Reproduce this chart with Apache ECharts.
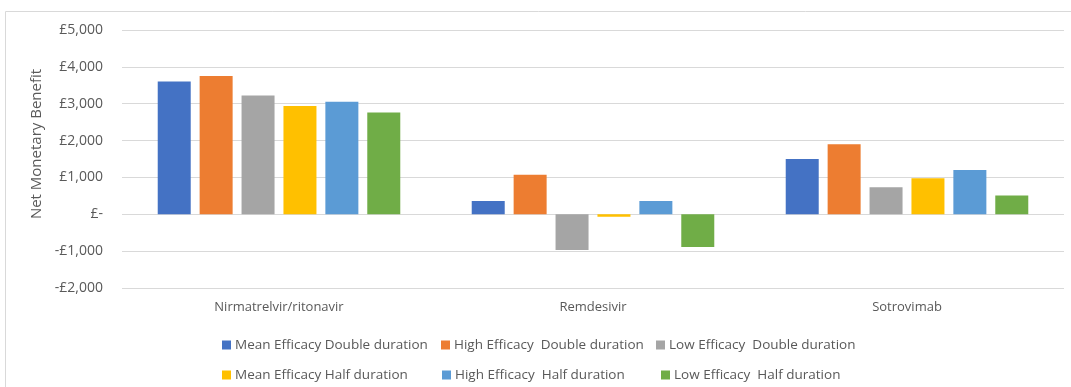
<!DOCTYPE html>
<html>
<head>
<meta charset="utf-8">
<script src="https://cdn.jsdelivr.net/npm/echarts@6/dist/echarts.min.js"></script>
<style>
  html, body { margin: 0; padding: 0; background: #fff; }
  #chart { width: 1071px; height: 387px; }
</style>
</head>
<body>
<div id="chart"></div>
<script>
// drugs on the x axis
var categories = ['Nirmatrelvir/ritonavir', 'Remdesivir', 'Sotrovimab']

// scenario names (legend)
var seriesNames = [
  'Mean Efficacy Double duration',
  'High Efficacy  Double duration',
  'Low Efficacy  Double duration',
  'Mean Efficacy Half duration',
  'High Efficacy  Half duration',
  'Low Efficacy  Half duration'
]
var colors = ['#4472c4', '#ed7d31', '#a5a5a5', '#ffc000', '#5b9bd5', '#70ad47']

// net monetary benefit (£)
var meanDouble = [3600, 360, 1500]
var highDouble = [3750, 1070, 1900]
var lowDouble = [3220, -970, 735]
var meanHalf = [2940, -70, 980]
var highHalf = [3050, 360, 1200]
var lowHalf = [2760, -890, 510]
var values = [meanDouble, highDouble, lowDouble, meanHalf, highHalf, lowHalf]

var chart = echarts.init(document.getElementById('chart'), null, { renderer: 'canvas' })

function fmt(v) {
  if (v === 0) return '£-'
  var s = Math.abs(v).toString().replace(/\B(?=(\d{3})+(?!\d))/g, ',')
  return (v < 0 ? '-£' : '£') + s
}

var font = "'Open Sans', 'Liberation Sans', sans-serif"

// legend spots, one legend per item so the columns sit like the original
var legendPos = [[217, 333], [436, 333], [651, 333], [217, 363], [437, 363], [656, 363]]
var legends = seriesNames.map(function (name, i) {
  return {
    data: [name],
    left: legendPos[i][0],
    top: legendPos[i][1],
    itemWidth: 9,
    itemHeight: 9,
    itemGap: 0,
    icon: 'rect',
    textStyle: { color: '#595959', fontSize: 13.5, fontFamily: font, padding: [0, 0, 0, -1] }
  }
})

var series = seriesNames.map(function (name, i) {
  return {
    name: name,
    type: 'bar',
    data: values[i],
    barWidth: 33,
    barGap: '27%',
    itemStyle: { color: colors[i] }
  }
})

var option = {
  animation: false,
  graphic: [{
    type: 'rect',
    shape: { x: 5.5, y: 11.5, width: 1200, height: 500 },
    style: { fill: 'none', stroke: '#d9d9d9', lineWidth: 1 },
    silent: true
  }],
  grid: { left: 122, right: 7, top: 30, bottom: 99, containLabel: false },
  legend: legends,
  xAxis: {
    type: 'category',
    data: categories,
    axisLine: { show: false },
    axisTick: { show: false },
    axisLabel: { color: '#595959', fontSize: 13, fontFamily: font, margin: 13 }
  },
  yAxis: {
    type: 'value',
    min: -2000,
    max: 5000,
    interval: 1000,
    name: 'Net Monetary Benefit',
    nameLocation: 'middle',
    nameGap: 78,
    nameTextStyle: { color: '#595959', fontSize: 15, fontFamily: font, padding: [0, 0, 0, 30] },
    axisLine: { show: false },
    axisTick: { show: false },
    axisLabel: {
      color: '#595959', fontSize: 14, fontFamily: font, margin: 19,
      formatter: fmt
    },
    splitLine: { lineStyle: { color: '#d9d9d9', width: 1 } }
  },
  series: series
}

chart.setOption(option)
</script>
</body>
</html>
